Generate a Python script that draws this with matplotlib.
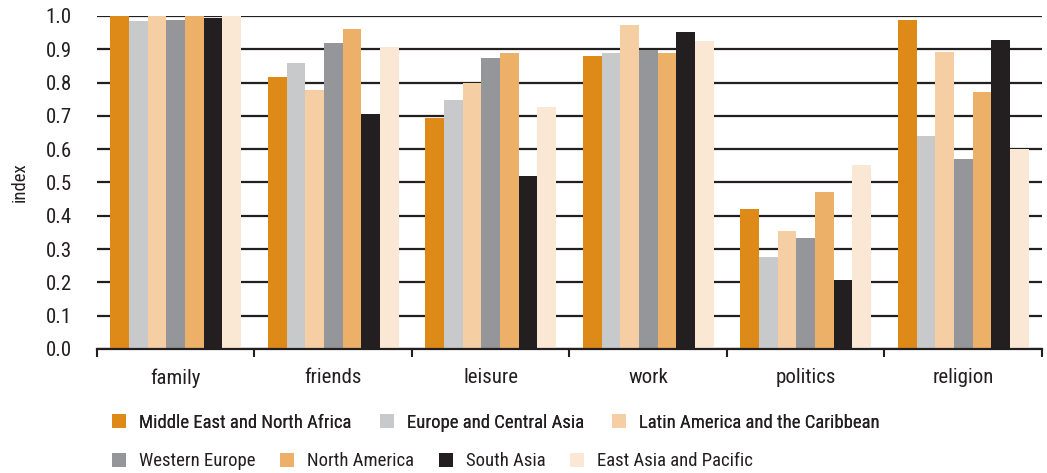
import matplotlib
matplotlib.use('Agg')
import matplotlib.pyplot as plt
from matplotlib import font_manager
import numpy as np

# prefer a condensed face if the box has one
installed = {f.name for f in font_manager.fontManager.ttflist}
narrow = [n for n in ['Liberation Sans Narrow', 'Roboto Condensed',
                      'Open Sans Condensed', 'Noto Sans Condensed'] if n in installed]
if narrow:
    plt.rcParams['font.family'] = [narrow[0], 'DejaVu Sans']
    fs_tick, fs_leg = 15, 13.5
else:
    plt.rcParams['font.family'] = ['Liberation Sans', 'DejaVu Sans']
    fs_tick, fs_leg = 12, 11

# data
domains = ['family', 'friends', 'leisure', 'work', 'politics', 'religion']
regions = ['Middle East and North Africa', 'Europe and Central Asia',
           'Latin America and the Caribbean', 'Western Europe',
           'North America', 'South Asia', 'East Asia and Pacific']
mena = [1.0, 0.817, 0.693, 0.881, 0.420, 0.987]
eca = [0.985, 0.859, 0.749, 0.889, 0.277, 0.639]
lac = [1.0, 0.778, 0.800, 0.974, 0.353, 0.892]
weu = [0.988, 0.919, 0.875, 0.897, 0.333, 0.572]
nam = [1.0, 0.962, 0.889, 0.889, 0.472, 0.772]
sas = [0.994, 0.705, 0.520, 0.953, 0.208, 0.928]
eap = [1.0, 0.906, 0.728, 0.925, 0.554, 0.600]
yticks = [0.0, 0.1, 0.2, 0.3, 0.4, 0.5, 0.6, 0.7, 0.8, 0.9, 1.0]

series = [mena, eca, lac, weu, nam, sas, eap]
colors = ['#DE8A19', '#C8C9CA', '#F5CFA3', '#959699', '#ECB068', '#231F20', '#FAE8D4']
dark = '#231F20'

fig = plt.figure(figsize=(10.47, 4.73), dpi=100)
ax = fig.add_axes([0.0926, 0.2622, 0.9026, 0.704])

x = np.arange(len(domains))
n = len(series)
bw = 0.83 / n
handles = []
for i, (vals, c) in enumerate(zip(series, colors)):
    h = ax.bar(x - 0.415 + bw * (i + 0.5), vals, width=bw, color=c,
               label=regions[i], zorder=3)
    handles.append(h)

ax.set_xlim(-0.5, len(domains) - 0.5)
ax.set_ylim(0, 1.0)
ax.set_yticks(yticks)
ax.set_yticklabels(['%.1f' % t for t in yticks])
ax.yaxis.grid(True, color=dark, linewidth=1.6, zorder=0)
ax.set_axisbelow(True)

ax.set_xticks(x)
ax.set_xticklabels(domains)
ax.set_xticks(np.arange(-0.5, len(domains)), minor=True)
ax.tick_params(axis='x', which='major', length=0, pad=14, labelsize=fs_tick, colors=dark)
ax.tick_params(axis='x', which='minor', length=6, width=1.5, color=dark)
ax.tick_params(axis='y', length=0, pad=18, labelsize=fs_tick, colors=dark)

for s in ['left', 'right', 'top']:
    ax.spines[s].set_visible(False)
ax.spines['bottom'].set_color(dark)
ax.spines['bottom'].set_linewidth(1.6)
ax.spines['bottom'].set_zorder(4)

ax.set_ylabel('index', fontsize=fs_leg, color=dark, labelpad=12)

common = dict(loc='center left', frameon=False, fontsize=fs_leg,
              handlelength=0.75, handleheight=0.75, handletextpad=0.7,
              borderaxespad=0, borderpad=0, labelcolor=dark)
leg1 = fig.legend(handles[:3], regions[:3], bbox_to_anchor=(0.107, 0.106),
                  ncol=3, columnspacing=1.5, **common)
leg2 = fig.legend(handles[3:], regions[3:], bbox_to_anchor=(0.107, 0.025),
                  ncol=4, columnspacing=1.3, **common)
fig.add_artist(leg1)

fig.savefig('out.png', dpi=100)
